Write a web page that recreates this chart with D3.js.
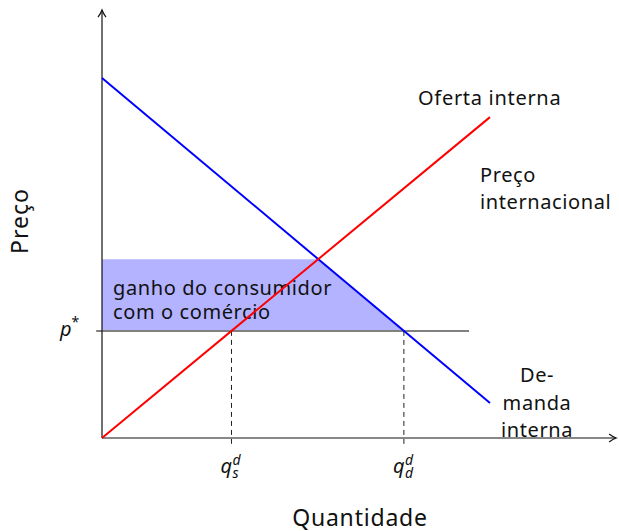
<!DOCTYPE html>
<html>
<head>
<meta charset="utf-8">
<script src="https://cdn.jsdelivr.net/npm/d3@7"></script>
<style>
  html, body { margin: 0; padding: 0; background: #fff; }
  text { font-family: "Noto Sans", "DejaVu Sans", sans-serif; fill: #111; }
</style>
</head>
<body>
<div id="chart"></div>
<script>
// model values (chart units)
var demandLine = [[0, 9.28], [10, 0.90]];
var supplyLine = [[0, 0], [10, 8.27]];
var worldPrice = 2.76;
var priceLineStart = -0.15;
var priceLineEnd = 9.46;
var axisMax = [13.25, 11.03];

var supplyLabel = ["Oferta interna"];
var priceLabel = ["Preço", "internacional"];
var demandLabel = ["De-", "manda", "interna"];
var gainLabel = ["ganho do consumidor", "com o comércio"];

var width = 619, height = 531;

var x = d3.scaleLinear().domain([0, 10]).range([102, 490]);
var y = d3.scaleLinear().domain([0, 10]).range([438, 50]);

function lineAt(pts, q) {
  var k = (pts[1][1] - pts[0][1]) / (pts[1][0] - pts[0][0]);
  return pts[0][1] + k * (q - pts[0][0]);
}
function qAtPrice(pts, p) {
  var k = (pts[1][1] - pts[0][1]) / (pts[1][0] - pts[0][0]);
  return pts[0][0] + (p - pts[0][1]) / k;
}

// equilibrium without trade
var kd = (demandLine[1][1] - demandLine[0][1]) / (demandLine[1][0] - demandLine[0][0]);
var ks = (supplyLine[1][1] - supplyLine[0][1]) / (supplyLine[1][0] - supplyLine[0][0]);
var qEq = (demandLine[0][1] - supplyLine[0][1]) / (ks - kd);
var pEq = lineAt(supplyLine, qEq);

var qs = qAtPrice(supplyLine, worldPrice);
var qd = qAtPrice(demandLine, worldPrice);

var svg = d3.select("#chart").append("svg")
  .attr("width", width)
  .attr("height", height);

// consumer gain area
var gainArea = [[0, pEq], [qEq, pEq], [qd, worldPrice], [0, worldPrice]];
svg.append("path")
  .attr("d", d3.line().x(function (d) { return x(d[0]); }).y(function (d) { return y(d[1]); })(gainArea) + "Z")
  .attr("fill", "#b3b3ff");

svg.selectAll("text.gain")
  .data(gainLabel)
  .enter()
  .append("text")
  .attr("class", "gain")
  .attr("x", x(0) + 11)
  .attr("y", function (d, i) { return 295 + i * 23.5; })
  .attr("font-size", 20)
  .attr("letter-spacing", 0.6)
  .text(function (d) { return d; });

// world price line
svg.append("line")
  .attr("x1", x(priceLineStart)).attr("x2", x(priceLineEnd))
  .attr("y1", y(worldPrice)).attr("y2", y(worldPrice))
  .attr("stroke", "#808080")
  .attr("stroke-width", 2);

// dashed quantity drops
svg.selectAll("line.drop")
  .data([qs, qd])
  .enter()
  .append("line")
  .attr("class", "drop")
  .attr("x1", function (d) { return x(d); })
  .attr("x2", function (d) { return x(d); })
  .attr("y1", y(worldPrice))
  .attr("y2", y(priceLineStart))
  .attr("stroke", "#222")
  .attr("stroke-width", 1)
  .attr("stroke-dasharray", "5,4");

// axes
svg.append("line")
  .attr("x1", x(0)).attr("y1", y(0))
  .attr("x2", x(axisMax[0])).attr("y2", y(0))
  .attr("stroke", "#111").attr("stroke-width", 1.2);
svg.append("line")
  .attr("x1", x(0)).attr("y1", y(0))
  .attr("x2", x(0)).attr("y2", y(axisMax[1]))
  .attr("stroke", "#111").attr("stroke-width", 1.2);

// arrow tips
var ax = x(axisMax[0]), ay = y(0);
svg.append("path")
  .attr("d", "M" + (ax - 7) + "," + (ay - 4) + " Q" + (ax - 3) + "," + (ay - 1) + " " + ax + "," + ay +
    " Q" + (ax - 3) + "," + (ay + 1) + " " + (ax - 7) + "," + (ay + 4))
  .attr("fill", "none").attr("stroke", "#111").attr("stroke-width", 1.2);
var bx = x(0), by = y(axisMax[1]);
svg.append("path")
  .attr("d", "M" + (bx - 4) + "," + (by + 7) + " Q" + (bx - 1) + "," + (by + 3) + " " + bx + "," + by +
    " Q" + (bx + 1) + "," + (by + 3) + " " + (bx + 4) + "," + (by + 7))
  .attr("fill", "none").attr("stroke", "#111").attr("stroke-width", 1.2);

// demand and supply
var curve = d3.line().x(function (d) { return x(d[0]); }).y(function (d) { return y(d[1]); });
svg.append("path")
  .attr("d", curve(demandLine))
  .attr("fill", "none")
  .attr("stroke", "#0000ff")
  .attr("stroke-width", 2);
svg.append("path")
  .attr("d", curve(supplyLine))
  .attr("fill", "none")
  .attr("stroke", "#ff0000")
  .attr("stroke-width", 2);

// curve labels
svg.selectAll("text.supply")
  .data(supplyLabel)
  .enter()
  .append("text")
  .attr("class", "supply")
  .attr("x", 418)
  .attr("y", 105)
  .attr("font-size", 20)
  .attr("letter-spacing", 0.7)
  .text(function (d) { return d; });

svg.selectAll("text.price")
  .data(priceLabel)
  .enter()
  .append("text")
  .attr("class", "price")
  .attr("x", 480)
  .attr("y", function (d, i) { return 182 + i * 27; })
  .attr("font-size", 20)
  .attr("letter-spacing", 0.6)
  .text(function (d) { return d; });

svg.selectAll("text.demand")
  .data(demandLabel)
  .enter()
  .append("text")
  .attr("class", "demand")
  .attr("x", 537)
  .attr("y", function (d, i) { return 382 + i * 27.5; })
  .attr("text-anchor", "middle")
  .attr("font-size", 20)
  .attr("letter-spacing", 0.6)
  .text(function (d) { return d; });

// p* label
var pLab = svg.append("text")
  .attr("x", 60)
  .attr("y", y(worldPrice) + 5)
  .attr("font-size", 20)
  .attr("font-style", "italic");
pLab.append("tspan").text("p");
pLab.append("tspan").attr("dy", -9).attr("font-size", 14).attr("font-style", "normal").text("*");

// q labels (q with subscript and superscript)
var qLabels = [{ q: qs, sub: "s" }, { q: qd, sub: "d" }];
var qt = svg.selectAll("text.qlab")
  .data(qLabels)
  .enter()
  .append("text")
  .attr("class", "qlab")
  .attr("x", function (d) { return x(d.q) - 11; })
  .attr("y", 473)
  .attr("font-size", 20)
  .attr("font-style", "italic");
qt.append("tspan").text("q");
qt.append("tspan")
  .attr("x", function (d) { return x(d.q) + 1; })
  .attr("dy", 5)
  .attr("font-size", 14)
  .text(function (d) { return d.sub; });
qt.append("tspan")
  .attr("x", function (d) { return x(d.q) + 1; })
  .attr("dy", -13)
  .attr("font-size", 14)
  .text("d");

// axis titles
svg.append("text")
  .attr("x", 360)
  .attr("y", 526)
  .attr("text-anchor", "middle")
  .attr("font-size", 23)
  .attr("letter-spacing", 0.8)
  .text("Quantidade");
svg.append("text")
  .attr("transform", "translate(28,221) rotate(-90)")
  .attr("text-anchor", "middle")
  .attr("font-size", 23)
  .attr("letter-spacing", 1)
  .text("Preço");
</script>
</body>
</html>
